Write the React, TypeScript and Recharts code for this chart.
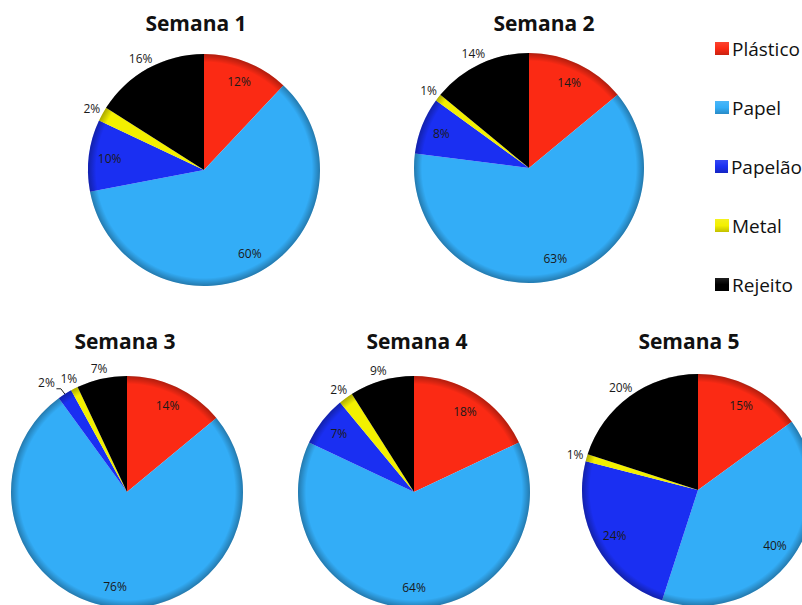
import React from 'react';
import { PieChart, Pie, Cell, Legend } from 'recharts';

// Waste categories and their share (%) per week
const categories = ['Plástico', 'Papel', 'Papelão', 'Metal', 'Rejeito'];
const weekTitles = ['Semana 1', 'Semana 2', 'Semana 3', 'Semana 4', 'Semana 5'];
const semana1 = [12, 60, 10, 2, 16];
const semana2 = [14, 63, 8, 1, 14];
const semana3 = [14, 76, 2, 1, 7];
const semana4 = [18, 64, 7, 2, 9];
const semana5 = [15, 40, 24, 1, 20];
const weeks = [semana1, semana2, semana3, semana4, semana5];

const palette = ['#fb2a14', '#33adf7', '#1a2ff2', '#f3f000', '#000000'];

// Pie placement on the canvas
const pieLayout = [
  { cx: 204, cy: 170, r: 116, tx: 196, ty: 23 },
  { cx: 529, cy: 168, r: 115, tx: 544, ty: 23 },
  { cx: 127, cy: 492, r: 116, tx: 125, ty: 341 },
  { cx: 414, cy: 492, r: 116, tx: 417, ty: 341 },
  { cx: 698, cy: 490, r: 116, tx: 689, ty: 341 },
];

const FONT = '"Open Sans", "Noto Sans", sans-serif';
const RAD = Math.PI / 180;

function makeLabel(values: number[]) {
  const last = values.length - 1;
  const isOutside = (i: number) => values[i] < 5 || i === last;
  return (props: any) => {
    const { cx, cy, outerRadius, midAngle, index, value } = props;
    const text = `${value}%`;
    const dx = Math.cos(midAngle * RAD);
    const dy = -Math.sin(midAngle * RAD);
    const common = {
      fontFamily: FONT,
      fontSize: 12,
      fill: '#1a1a1a',
      textAnchor: 'middle' as const,
      dominantBaseline: 'central' as const,
    };
    if (!isOutside(index)) {
      const rr = outerRadius * 0.82;
      return (
        <text key={`l-${index}`} x={cx + rr * dx} y={cy + rr * dy} {...common}>
          {text}
        </text>
      );
    }
    const w = text.length * 7;
    const h = 12;
    let lx = cx + (outerRadius + 5) * dx + (dx * w) / 2;
    let ly = cy + (outerRadius + 5) * dy + (dy * h) / 2;
    // two thin neighbouring slices: move this label aside and add a leader
    const crowded =
      index < last && isOutside(index + 1) && ((values[index] + values[index + 1]) / 2) * 3.6 < 8;
    if (!crowded) {
      return (
        <text key={`l-${index}`} x={lx} y={ly} {...common}>
          {text}
        </text>
      );
    }
    lx -= 12;
    ly -= 2;
    const rimX = cx + outerRadius * dx;
    const rimY = cy + outerRadius * dy;
    return (
      <g key={`l-${index}`}>
        <polyline
          points={`${lx + 10},${ly + 6} ${rimX - 4},${ly + 6} ${rimX},${rimY}`}
          fill="none"
          stroke="#1a1a1a"
          strokeWidth={1}
        />
        <text x={lx} y={ly} {...common}>
          {text}
        </text>
      </g>
    );
  };
}

const LegendBox = () => (
  <div style={{ fontFamily: FONT, fontSize: 19, color: '#111' }}>
    {categories.map((name, i) => (
      <div key={name} style={{ display: 'flex', alignItems: 'center', height: 59 }}>
        <span
          style={{
            display: 'inline-block',
            width: 14,
            height: 13,
            marginRight: 3,
            background: `linear-gradient(180deg, rgba(255,255,255,0.12) 0%, rgba(255,255,255,0) 50%, rgba(0,0,0,0.2) 100%), ${palette[i]}`,
          }}
        />
        <span>{name}</span>
      </div>
    ))}
  </div>
);

export default function App() {
  return (
    <div style={{ position: 'absolute', left: 0, top: 0, width: 802, height: 605, background: '#fff' }}>
      <svg width={0} height={0} style={{ position: 'absolute' }}>
        <defs>
          <radialGradient id="rimShade" cx="50%" cy="50%" r="50%">
            <stop offset="0%" stopColor="#000" stopOpacity={0} />
            <stop offset="93%" stopColor="#000" stopOpacity={0} />
            <stop offset="100%" stopColor="#000" stopOpacity={0.3} />
          </radialGradient>
        </defs>
      </svg>
      <PieChart width={802} height={605} margin={{ top: 0, right: 0, bottom: 0, left: 0 }}>
        {weeks.map((values, w) => {
          const L = pieLayout[w];
          const rows = values.map((v, i) => ({ name: categories[i], value: v }));
          return (
            <Pie
              key={`p-${w}`}
              data={rows}
              dataKey="value"
              nameKey="name"
              cx={L.cx}
              cy={L.cy}
              outerRadius={L.r}
              startAngle={90}
              endAngle={-270}
              stroke="none"
              labelLine={false}
              label={makeLabel(values)}
              isAnimationActive={false}
              legendType="none"
            >
              {rows.map((row, i) => (
                <Cell key={row.name} fill={palette[i]} />
              ))}
            </Pie>
          );
        })}
        {weeks.map((_, w) => {
          const L = pieLayout[w];
          return (
            <Pie
              key={`s-${w}`}
              data={[{ name: 'shade', value: 1 }]}
              dataKey="value"
              cx={L.cx}
              cy={L.cy}
              outerRadius={L.r}
              startAngle={90}
              endAngle={-270}
              stroke="none"
              fill="url(#rimShade)"
              label={false}
              labelLine={false}
              isAnimationActive={false}
              legendType="none"
              style={{ pointerEvents: 'none' }}
            />
          );
        })}
        {weekTitles.map((t, w) => (
          <text
            key={t}
            x={pieLayout[w].tx}
            y={pieLayout[w].ty}
            textAnchor="middle"
            dominantBaseline="central"
            fontFamily={FONT}
            fontWeight={700}
            fontSize={21}
            fill="#111"
          >
            {t}
          </text>
        ))}
        <Legend
          content={() => <LegendBox />}
          wrapperStyle={{ position: 'absolute', left: 715, top: 19, width: 87 }}
        />
      </PieChart>
    </div>
  );
}
